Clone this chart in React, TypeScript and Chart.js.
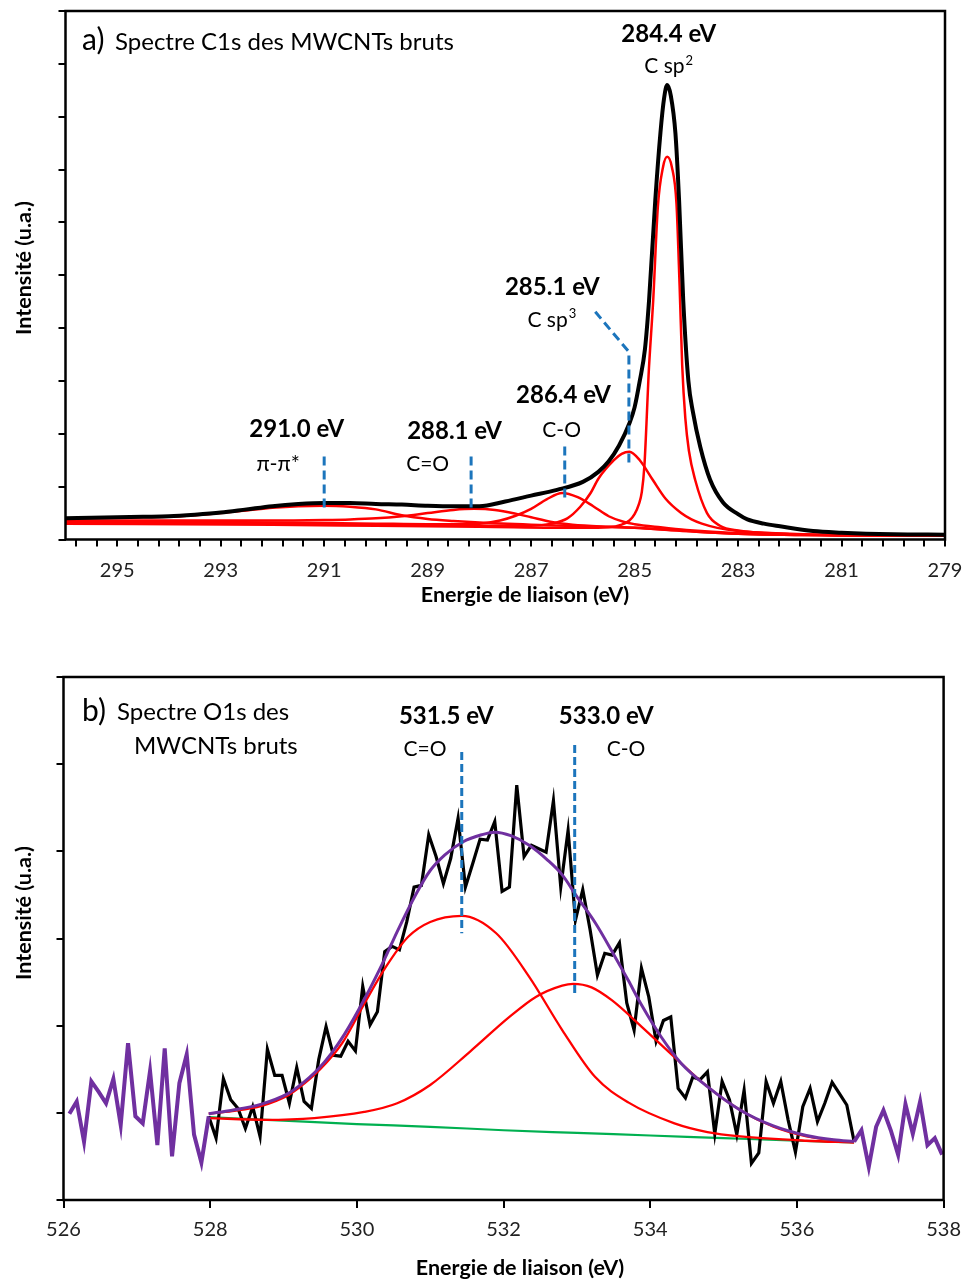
import React, { useEffect, useRef } from 'react';
import { Chart, registerables } from 'chart.js';
Chart.register(...registerables);

const FONT = 'Lato, "DejaVu Sans", sans-serif';
const RED = '#FF0000';
const BLUE = '#1C75BC';
const PURPLE = '#7030A0';
const GREEN = '#00B050';

type P = [number, number];

// ---------- (a) C1s spectrum ----------
const c1sEnvelope: P[] = [
  [296, 0.40], [295.5, 0.41], [295, 0.42], [294.5, 0.43], [294, 0.44], [293.5, 0.47], [293, 0.51],
  [292.5, 0.57], [292, 0.63], [291.5, 0.67], [291, 0.69], [290.5, 0.69], [290, 0.67], [289.5, 0.66],
  [289, 0.64], [288.5, 0.63], [288, 0.63], [287.5, 0.72], [287, 0.83], [286.5, 0.94], [286, 1.09],
  [285.7, 1.28], [285.5, 1.48], [285.3, 1.78], [285.1, 2.2], [285, 2.5], [284.9, 3.0], [284.8, 3.6],
  [284.72, 4.53], [284.6, 6.42], [284.5, 7.7], [284.43, 8.35], [284.37, 8.6], [284.3, 8.4],
  [284.21, 7.68], [284.14, 6.42], [284.06, 4.53], [283.96, 3.0], [283.87, 2.4], [283.73, 1.75],
  [283.54, 1.13], [283.29, 0.70], [283.0, 0.48], [282.82, 0.38], [282.5, 0.30], [282.19, 0.25],
  [281.55, 0.16], [281, 0.13], [280, 0.10], [279, 0.09],
];
const c1sPiPi: P[] = [
  [296, 0.40], [295, 0.41], [294.5, 0.42], [294, 0.43], [293.5, 0.46], [293, 0.50], [292.5, 0.55],
  [292, 0.60], [291.5, 0.63], [291, 0.64], [290.5, 0.62], [290, 0.57], [289.5, 0.46], [289, 0.39],
  [288.5, 0.35], [288, 0.32], [287, 0.28], [286, 0.25], [285, 0.22], [284, 0.16], [283, 0.11],
  [281, 0.08], [279, 0.07],
];
const c1sCdO: P[] = [
  [296, 0.36], [294, 0.36], [292, 0.36], [291, 0.37], [290.5, 0.38], [290, 0.40], [289.5, 0.44],
  [289, 0.50], [288.5, 0.56], [288.1, 0.58], [287.7, 0.56], [287.3, 0.49], [287, 0.42], [286.6, 0.33],
  [286.2, 0.28], [285.5, 0.24], [285, 0.22], [284, 0.16], [283, 0.11], [281, 0.08], [279, 0.07],
];
const c1sCO: P[] = [
  [296, 0.34], [293, 0.33], [291, 0.31], [290, 0.30], [289, 0.29], [288.5, 0.29], [288, 0.30],
  [287.6, 0.36], [287.3, 0.45], [287, 0.58], [286.7, 0.76], [286.4, 0.88], [286.1, 0.80],
  [285.8, 0.63], [285.5, 0.44], [285.2, 0.33], [285, 0.29], [284.5, 0.23], [284, 0.18], [283, 0.12],
  [281, 0.08], [279, 0.07],
];
const c1sSp3: P[] = [
  [296, 0.33], [292, 0.30], [290, 0.28], [288, 0.26], [287, 0.26], [286.6, 0.30], [286.3, 0.40],
  [286.05, 0.62], [285.85, 0.88], [285.7, 1.15], [285.4, 1.50], [285.25, 1.62], [285.1, 1.66],
  [284.9, 1.50], [284.65, 1.13], [284.4, 0.77], [284.1, 0.50], [283.9, 0.38], [283.7, 0.30],
  [283.4, 0.22], [283, 0.16], [282, 0.10], [281, 0.08], [279, 0.07],
];
const c1sSp2: P[] = [
  [296, 0.30], [292, 0.28], [290, 0.26], [288, 0.24], [286, 0.22], [285.5, 0.23], [285.25, 0.28],
  [285.1, 0.36], [285.0, 0.48], [284.92, 0.66], [284.86, 0.90], [284.81, 1.40], [284.77, 2.20],
  [284.73, 3.10], [284.64, 4.53], [284.55, 6.30], [284.45, 7.05], [284.37, 7.24], [284.28, 7.05],
  [284.19, 6.35], [284.13, 4.80], [284.08, 3.30], [284.02, 2.30], [283.95, 1.68], [283.83, 1.13],
  [283.6, 0.50], [283.35, 0.26], [283, 0.17], [282, 0.11], [281, 0.08], [279, 0.07],
];
const c1sDashes: P[][] = [
  [[291.0, 1.57], [291.0, 0.57]],
  [[288.16, 1.57], [288.16, 0.56]],
  [[286.35, 1.76], [286.35, 0.75]],
  [[285.76, 4.31], [285.11, 3.55], [285.11, 1.44]],
];
const c1sTickLabels = [279, 281, 283, 285, 287, 289, 291, 293, 295];
const c1sMinorStep = 0.4;

// ---------- (b) O1s spectrum ----------
const o1sLeftE = [526.08, 526.18, 526.28, 526.38, 526.48, 526.58, 526.68, 526.78, 526.88, 526.98,
  527.08, 527.18, 527.28, 527.38, 527.48, 527.58, 527.68, 527.78, 527.88, 527.98];
const o1sLeftI = [0.99, 1.13, 0.67, 1.36, 1.24, 1.11, 1.39, 0.86, 1.80, 0.96,
  0.88, 1.48, 0.63, 1.74, 0.50, 1.34, 1.67, 0.75, 0.43, 0.96];
const o1sRawE = [
  527.98, 528.08, 528.18, 528.28, 528.38, 528.48, 528.58, 528.68, 528.78, 528.88,
  528.98, 529.08, 529.18, 529.28, 529.38, 529.48, 529.58, 529.68, 529.78, 529.88,
  529.98, 530.08, 530.18, 530.28, 530.38, 530.48, 530.58, 530.68, 530.78, 530.88,
  530.98, 531.08, 531.18, 531.28, 531.38, 531.48, 531.58, 531.68, 531.78, 531.88,
  531.98, 532.08, 532.18, 532.28, 532.38, 532.48, 532.58, 532.68, 532.78, 532.88,
  532.98, 533.08, 533.18, 533.28, 533.38, 533.48, 533.58, 533.68, 533.78, 533.88,
  533.98, 534.08, 534.18, 534.28, 534.38, 534.48, 534.58, 534.68, 534.78, 534.88,
  534.98, 535.08, 535.18, 535.28, 535.38, 535.48, 535.58, 535.68, 535.78, 535.88,
  535.98, 536.08, 536.18, 536.28, 536.38, 536.48, 536.58, 536.68, 536.78,
];
const o1sRawI = [
  0.96, 0.71, 1.39, 1.15, 1.05, 0.82, 1.07, 0.73, 1.73, 1.43,
  1.43, 1.11, 1.52, 1.13, 1.05, 1.61, 1.99, 1.66, 1.65, 1.82,
  1.71, 2.45, 2.01, 2.16, 2.85, 2.91, 2.87, 3.19, 3.59, 3.61,
  4.19, 3.94, 3.63, 3.92, 4.38, 3.59, 3.86, 4.14, 4.13, 4.34,
  3.54, 3.59, 4.76, 3.94, 4.07, 4.03, 3.99, 4.58, 3.59, 4.24,
  3.21, 3.56, 3.10, 2.58, 2.83, 2.81, 2.95, 2.26, 1.95, 2.66,
  2.33, 1.82, 2.06, 2.10, 1.28, 1.17, 1.41, 1.38, 1.47, 0.76,
  1.36, 1.15, 0.75, 1.26, 0.42, 0.54, 1.36, 1.11, 1.36, 0.92,
  0.55, 1.07, 1.28, 0.90, 1.11, 1.35, 1.22, 1.09, 0.67,
];
const o1sRightE = [536.78, 536.88, 536.98, 537.08, 537.18, 537.28, 537.38, 537.48, 537.58, 537.68,
  537.78, 537.88, 537.98];
const o1sRightI = [0.67, 0.80, 0.38, 0.84, 1.03, 0.80, 0.52, 1.10, 0.76, 1.13, 0.63, 0.71, 0.52];
const o1sFit: P[] = [
  [527.98, 0.99], [528.3, 1.03], [528.7, 1.10], [529.06, 1.22], [529.2, 1.30], [529.47, 1.50],
  [529.65, 1.68], [529.83, 1.90], [530.1, 2.30], [530.37, 2.75], [530.55, 3.08], [530.8, 3.50],
  [531.0, 3.78], [531.2, 3.96], [531.45, 4.11], [531.7, 4.19], [531.88, 4.22], [532.1, 4.18],
  [532.35, 4.07], [532.6, 3.90], [532.8, 3.73], [533.0, 3.48], [533.25, 3.18], [533.5, 2.82],
  [533.7, 2.52], [533.88, 2.24], [534.15, 1.87], [534.42, 1.57], [534.78, 1.30], [535.23, 1.03],
  [535.68, 0.85], [536.13, 0.74], [536.5, 0.69], [536.78, 0.67],
];
const o1sCdO: P[] = [
  [527.98, 0.99], [528.3, 1.02], [528.7, 1.08], [529.06, 1.20], [529.2, 1.28], [529.5, 1.50],
  [529.8, 1.80], [530.1, 2.25], [530.4, 2.68], [530.7, 3.02], [531.0, 3.19], [531.43, 3.26],
  [531.9, 3.06], [532.35, 2.56], [532.8, 1.95], [533.25, 1.41], [533.7, 1.12], [534.33, 0.88],
  [534.78, 0.78], [535.23, 0.73], [536.13, 0.68], [536.78, 0.66],
];
const o1sCO: P[] = [
  [527.98, 0.94], [528.75, 0.92], [529.42, 0.94], [530.1, 1.01], [530.55, 1.11], [531.0, 1.32],
  [531.54, 1.70], [532.08, 2.10], [532.44, 2.33], [532.8, 2.46], [532.95, 2.48], [533.2, 2.44],
  [533.48, 2.29], [533.88, 1.99], [534.33, 1.64], [534.78, 1.30], [535.23, 1.03], [535.68, 0.84],
  [536.13, 0.73], [536.78, 0.66],
];
const o1sBackground: P[] = [
  [527.98, 0.95], [529, 0.91], [530, 0.87], [531, 0.84], [532, 0.80], [533, 0.77], [534, 0.74],
  [535, 0.71], [536, 0.68], [536.78, 0.66],
];
const o1sDashes: P[][] = [
  [[531.43, 5.14], [531.43, 3.06]],
  [[532.97, 5.22], [532.97, 2.35]],
];

type Label = { text: string; x: number; y: number; bold?: boolean; size: number; sup?: string };
const c1sLabels: Label[] = [
  { text: '284.4 eV', x: 284.34, y: 9.42, bold: true, size: 24 },
  { text: 'C sp', sup: '2', x: 284.34, y: 8.82, size: 21 },
  { text: '285.1 eV', x: 286.59, y: 4.63, bold: true, size: 24 },
  { text: 'C sp', sup: '3', x: 286.6, y: 4.03, size: 21 },
  { text: '286.4 eV', x: 286.375, y: 2.58, bold: true, size: 24 },
  { text: 'C-O', x: 286.41, y: 1.945, size: 21 },
  { text: '288.1 eV', x: 288.48, y: 1.90, bold: true, size: 24 },
  { text: 'C=O', x: 289.0, y: 1.30, size: 21 },
  { text: '291.0 eV', x: 291.53, y: 1.945, bold: true, size: 24 },
  { text: 'π-π*', x: 291.89, y: 1.30, size: 21.5 },
];
const o1sLabels: Label[] = [
  { text: '531.5 eV', x: 531.22, y: 5.46, bold: true, size: 24 },
  { text: 'C=O', x: 530.93, y: 5.095, size: 21 },
  { text: '533.0 eV', x: 533.40, y: 5.46, bold: true, size: 24 },
  { text: 'C-O', x: 533.67, y: 5.095, size: 21 },
];

type Free = { text: string; x: number; y: number; size: number; bold?: boolean; align?: CanvasTextAlign; rotate?: boolean };
const c1sFree: Free[] = [
  { text: 'a)', x: 82, y: 50, size: 30, align: 'left' },
  { text: 'Spectre C1s des MWCNTs bruts', x: 115, y: 50, size: 24, align: 'left' },
  { text: 'Energie de liaison (eV)', x: 525, y: 602, size: 21.5, bold: true, align: 'center' },
  { text: 'Intensité (u.a.)', x: 31, y: 268, size: 21.5, bold: true, align: 'center', rotate: true },
];
const o1sFree: Free[] = [
  { text: 'b)', x: 82, y: 91, size: 30, align: 'left' },
  { text: 'Spectre O1s des', x: 117, y: 90, size: 24, align: 'left' },
  { text: 'MWCNTs bruts', x: 134, y: 124, size: 24, align: 'left' },
  { text: 'Energie de liaison (eV)', x: 520, y: 645, size: 21.5, bold: true, align: 'center' },
  { text: 'Intensité (u.a.)', x: 31, y: 283, size: 21.5, bold: true, align: 'center', rotate: true },
];

const toPts = (arr: P[]) => arr.map(([x, y]) => ({ x, y }));
const zip = (e: number[], v: number[]) => e.map((x, i) => ({ x, y: v[i] }));

function textPlugin(labels: Label[], free: Free[]) {
  return {
    id: 'texts',
    afterDraw(chart: any) {
      const { ctx, chartArea: a } = chart;
      const xs = chart.scales.x;
      const ys = chart.scales.y;
      ctx.save();
      ctx.strokeStyle = '#000';
      ctx.lineWidth = 2.5;
      ctx.strokeRect(a.left, a.top, a.right - a.left, a.bottom - a.top);
      ctx.fillStyle = '#000';
      ctx.textBaseline = 'alphabetic';
      labels.forEach((l) => {
        const px = xs.getPixelForValue(l.x);
        const py = ys.getPixelForValue(l.y);
        const main = `${l.bold ? 'bold ' : ''}${l.size}px ${FONT}`;
        const small = `${Math.round(l.size * 0.62)}px ${FONT}`;
        ctx.font = main;
        const w = ctx.measureText(l.text).width;
        let sw = 0;
        if (l.sup) {
          ctx.font = small;
          sw = ctx.measureText(l.sup).width + 1;
        }
        const x0 = px - (w + sw) / 2;
        ctx.textAlign = 'left';
        ctx.font = main;
        ctx.fillText(l.text, x0, py);
        if (l.sup) {
          ctx.font = small;
          ctx.fillText(l.sup, x0 + w + 1, py - l.size * 0.4);
        }
      });
      free.forEach((f) => {
        ctx.font = `${f.bold ? 'bold ' : ''}${f.size}px ${FONT}`;
        ctx.textAlign = f.align || 'left';
        if (f.rotate) {
          ctx.save();
          ctx.translate(f.x, f.y);
          ctx.rotate(-Math.PI / 2);
          ctx.fillText(f.text, 0, 0);
          ctx.restore();
        } else {
          ctx.fillText(f.text, f.x, f.y);
        }
      });
      ctx.restore();
    },
  };
}

const line = (data: any[], color: string, width: number, smooth: boolean, order: number, dash?: number[]) => ({
  data,
  borderColor: color,
  backgroundColor: color,
  borderWidth: width,
  pointRadius: 0,
  fill: false,
  tension: 0,
  cubicInterpolationMode: smooth ? 'monotone' : 'default',
  borderDash: dash || [],
  order,
});

const tickGrid = (len: number) => ({
  drawOnChartArea: false,
  drawTicks: true,
  tickLength: len,
  color: '#000',
  tickColor: '#000',
  lineWidth: 2,
  tickWidth: 2,
});

function C1sChart() {
  const ref = useRef<HTMLCanvasElement>(null);
  useEffect(() => {
    const minorTicks: number[] = [];
    for (let i = 0; i * c1sMinorStep <= 296 - 279 + 1e-9; i++) {
      minorTicks.push(Math.round((279 + i * c1sMinorStep) * 10) / 10);
    }
    const chart = new Chart(ref.current as HTMLCanvasElement, {
      type: 'line',
      data: {
        datasets: [
          ...c1sDashes.map((d) => line(toPts(d), BLUE, 3, false, 0, [9, 5])),
          line(toPts(c1sEnvelope), '#000', 4, true, 1),
          line(toPts(c1sPiPi), RED, 2.5, true, 2),
          line(toPts(c1sCdO), RED, 2.5, true, 2),
          line(toPts(c1sCO), RED, 2.5, true, 2),
          line(toPts(c1sSp3), RED, 2.5, true, 2),
          line(toPts(c1sSp2), RED, 2.5, true, 2),
        ] as any,
      },
      options: {
        responsive: false,
        animation: false,
        events: [],
        layout: { padding: { top: 11, right: 26, left: 0, bottom: 0 } },
        plugins: { legend: { display: false }, tooltip: { enabled: false } },
        scales: {
          x: {
            type: 'linear',
            min: 279,
            max: 296,
            reverse: true,
            afterBuildTicks: (s: any) => {
              s.ticks = minorTicks.map((v) => ({ value: v }));
            },
            afterFit: (s: any) => {
              s.height = 85.5;
            },
            grid: tickGrid(7),
            border: { display: false },
            ticks: {
              autoSkip: false,
              maxRotation: 0,
              padding: 12,
              color: '#222',
              font: { family: FONT, size: 20 },
              callback: (v: any) => (c1sTickLabels.includes(Math.round(v * 10) / 10) ? String(Math.round(v)) : ''),
            },
          },
          y: {
            min: 0,
            max: 10,
            ticks: { stepSize: 1, display: false },
            afterFit: (s: any) => {
              s.width = 65.5;
            },
            grid: tickGrid(7),
            border: { display: false },
          },
        },
      } as any,
      plugins: [textPlugin(c1sLabels, c1sFree)],
    });
    return () => chart.destroy();
  }, []);
  return (
    <canvas
      ref={ref}
      width={971}
      height={625}
      style={{ position: 'absolute', left: 0, top: 0, width: 971, height: 625 }}
    />
  );
}

function O1sChart() {
  const ref = useRef<HTMLCanvasElement>(null);
  useEffect(() => {
    const chart = new Chart(ref.current as HTMLCanvasElement, {
      type: 'line',
      data: {
        datasets: [
          ...o1sDashes.map((d) => line(toPts(d), BLUE, 3, false, 0, [8, 4])),
          line(toPts(o1sFit), PURPLE, 3, true, 1),
          line(zip(o1sLeftE, o1sLeftI), PURPLE, 4, false, 1),
          line(zip(o1sRightE, o1sRightI), PURPLE, 4, false, 1),
          line(toPts(o1sCdO), RED, 2.3, true, 2),
          line(toPts(o1sCO), RED, 2.3, true, 2),
          line(zip(o1sRawE, o1sRawI), '#000', 3.2, false, 3),
          line(toPts(o1sBackground), GREEN, 2.2, true, 4),
        ] as any,
      },
      options: {
        responsive: false,
        animation: false,
        events: [],
        layout: { padding: { top: 47, right: 19, left: 0, bottom: 0 } },
        plugins: { legend: { display: false }, tooltip: { enabled: false } },
        scales: {
          x: {
            type: 'linear',
            min: 526,
            max: 538,
            afterFit: (s: any) => {
              s.height = 79;
            },
            grid: tickGrid(8),
            border: { display: false },
            ticks: {
              stepSize: 2,
              autoSkip: false,
              maxRotation: 0,
              padding: 10,
              color: '#222',
              font: { family: FONT, size: 20 },
            },
          },
          y: {
            min: 0,
            max: 6,
            ticks: { stepSize: 1, display: false },
            afterFit: (s: any) => {
              s.width = 63.5;
            },
            grid: tickGrid(7),
            border: { display: false },
          },
        },
      } as any,
      plugins: [textPlugin(o1sLabels, o1sFree)],
    });
    return () => chart.destroy();
  }, []);
  return (
    <canvas
      ref={ref}
      width={971}
      height={649}
      style={{ position: 'absolute', left: 0, top: 630, width: 971, height: 649 }}
    />
  );
}

export default function App() {
  return (
    <div style={{ position: 'absolute', left: 0, top: 0, width: 971, height: 1279, background: '#fff' }}>
      <C1sChart />
      <O1sChart />
    </div>
  );
}
